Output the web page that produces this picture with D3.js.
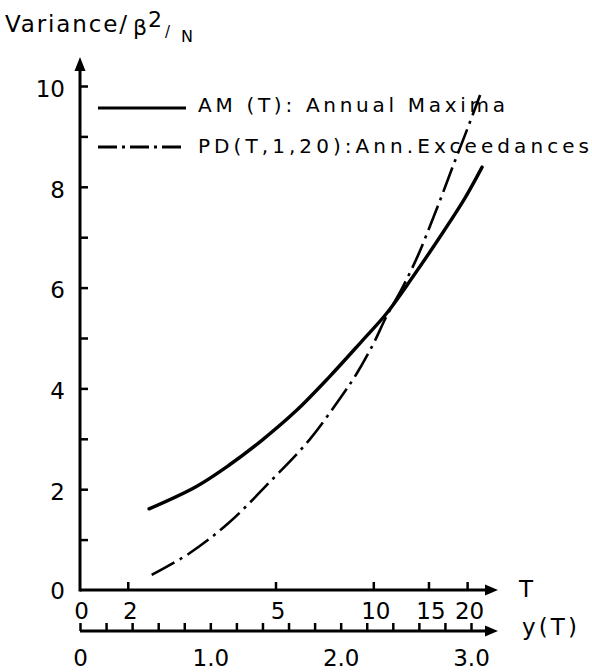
<!DOCTYPE html>
<html>
<head>
<meta charset="utf-8">
<script src="https://cdn.jsdelivr.net/npm/d3@7"></script>
<style>
  html, body { margin: 0; padding: 0; background: #fff; }
  svg { display: block; }
  text { font-family: "DejaVu Sans", sans-serif; fill: #000; }
</style>
</head>
<body>
<svg id="chart" width="592" height="672"></svg>
<script>
// ---------- data ----------
// reduced variate y(T) and Variance/(beta^2/N)
const amY   = [0.53, 0.89, 1.14, 1.40, 1.66, 1.91, 2.16, 2.35, 2.55, 2.75, 2.95, 3.085];
const amVar = [1.61, 2.05, 2.47, 2.98, 3.56, 4.22, 4.93, 5.48, 6.20, 6.96, 7.76, 8.39];

const pdY   = [0.55, 0.84, 1.14, 1.47, 1.76, 2.00, 2.12, 2.25, 2.35, 2.47, 2.59, 2.69, 2.78, 2.86, 2.95, 3.07];
const pdVar = [0.30, 0.73, 1.33, 2.18, 2.98, 3.82, 4.28, 4.88, 5.42, 5.98, 6.62, 7.25, 7.85, 8.40, 9.00, 9.82];

const seriesNames = ["AM (T): Annual Maxima", "PD(T,1,20):Ann.Exceedances"];

const varTicks      = [0, 1, 2, 3, 4, 5, 6, 7, 8, 9, 10];
const varTickLabels = ["0", "", "2", "", "4", "", "6", "", "8", "", "10"];

const tTicks      = [2, 5, 10, 15, 20];
const tTickLabels = ["2", "5", "10", "15", "20"];
const tOriginLabel = "0";

const yTTicks  = [0, 0.2, 0.4, 0.6, 0.8, 1.0, 1.2, 1.4, 1.6, 1.8, 2.0, 2.2, 2.4, 2.6, 2.8, 3.0];
const yTLabels = {0: "0", 1: "1.0", 2: "2.0", 3: "3.0"};

// ---------- scales ----------
const svg = d3.select("#chart");
const x = d3.scaleLinear().domain([0, 3]).range([80, 471]);
const y = d3.scaleLinear().domain([0, 10]).range([590, 86]);
// Gumbel reduced variate for return period T
const gumbel = T => -Math.log(-Math.log(1 - 1 / T));

const axisY1 = y(0);       // T axis line
const axisY2 = 631;        // y(T) axis line
const arrowEnd = 498;

function arrowRight(g, yy) {
  g.append("line").attr("x1", x(0)).attr("x2", arrowEnd - 6).attr("y1", yy).attr("y2", yy)
    .attr("stroke", "#000").attr("stroke-width", 3);
  g.append("path").attr("d", `M${arrowEnd},${yy} L${arrowEnd-13},${yy-5.5} L${arrowEnd-13},${yy+5.5} Z`)
    .attr("fill", "#000");
}

// ---------- Y axis ----------
const gy = svg.append("g").attr("transform", `translate(${x(0)},0)`)
  .call(d3.axisLeft(y).tickValues(varTicks.slice(1)).tickSize(-8).tickPadding(15)
    .tickFormat((d) => varTickLabels[varTicks.indexOf(d)]));
gy.select(".domain").remove();
gy.selectAll(".tick line").attr("stroke", "#000").attr("stroke-width", 2.5);
gy.selectAll(".tick text").attr("font-size", 23).attr("dy", "0.45em").attr("font-family", "DejaVu Sans");
svg.append("text").attr("x", x(0) - 15).attr("y", y(0)).attr("dy", "0.38em")
  .attr("text-anchor", "end").attr("font-size", 23).text(varTickLabels[0]);
svg.append("line").attr("x1", x(0)).attr("x2", x(0)).attr("y1", axisY1 + 1.5).attr("y2", 66)
  .attr("stroke", "#000").attr("stroke-width", 3);
svg.append("path").attr("d", `M${x(0)},57 L${x(0)-5.5},71 L${x(0)+5.5},71 Z`).attr("fill", "#000");

// ---------- T axis ----------
const gT = svg.append("g");
arrowRight(gT, axisY1);
const tAxis = svg.append("g").attr("transform", `translate(0,${axisY1})`)
  .call(d3.axisBottom(x).tickValues([0].concat(tTicks.map(gumbel))).tickSize(-8).tickPadding(13)
    .tickFormat((d, i) => i === 0 ? tOriginLabel : tTickLabels[i - 1]));
tAxis.select(".domain").remove();
tAxis.selectAll(".tick line").attr("stroke", "#000").attr("stroke-width", 2.5)
  .filter((d, i) => i === 0).remove();
tAxis.selectAll(".tick text").attr("font-size", 23).attr("font-family", "DejaVu Sans")
  .attr("dx", (d, i) => i === 0 ? 1 : 2);
svg.append("text").attr("x", 526).attr("y", 597).attr("text-anchor", "middle")
  .attr("font-size", 23).text("T");

// ---------- y(T) axis ----------
const gYT = svg.append("g");
arrowRight(gYT, axisY2);
const yTAxis = svg.append("g").attr("transform", `translate(0,${axisY2})`)
  .call(d3.axisBottom(x).tickValues(yTTicks).tickSize(-8).tickPadding(19)
    .tickFormat(d => { const k = Math.round(d * 10) / 10; return Number.isInteger(k) ? yTLabels[k] : ""; }));
yTAxis.select(".domain").remove();
yTAxis.selectAll(".tick line").attr("stroke", "#000").attr("stroke-width", 2.5);
yTAxis.selectAll(".tick text").attr("font-size", 23).attr("font-family", "DejaVu Sans");
svg.append("text").attr("x", 522).attr("y", 635).attr("font-size", 23)
  .attr("textLength", 55).attr("lengthAdjust", "spacing").text("y(T)");

// ---------- curves ----------
const line = d3.line().x(d => x(d[0])).y(d => y(d[1])).curve(d3.curveCatmullRom.alpha(0.5));
svg.append("path").datum(amY.map((v, i) => [v, amVar[i]])).attr("d", line)
  .attr("fill", "none").attr("stroke", "#000").attr("stroke-width", 3.4).attr("stroke-linecap", "round");
svg.append("path").datum(pdY.map((v, i) => [v, pdVar[i]])).attr("d", line)
  .attr("fill", "none").attr("stroke", "#000").attr("stroke-width", 2.6)
  .attr("stroke-dasharray", "26,6,3,6");

// ---------- legend ----------
const leg = svg.append("g");
leg.append("line").attr("x1", 98).attr("x2", 186).attr("y1", 108).attr("y2", 108)
  .attr("stroke", "#000").attr("stroke-width", 2.8);
leg.append("text").attr("x", 198).attr("y", 112).attr("font-size", 20)
  .attr("textLength", 307).attr("lengthAdjust", "spacing").text(seriesNames[0]);
leg.append("line").attr("x1", 98).attr("x2", 186).attr("y1", 147).attr("y2", 147)
  .attr("stroke", "#000").attr("stroke-width", 2.8).attr("stroke-dasharray", "19,5,3,5");
leg.append("text").attr("x", 198).attr("y", 153).attr("font-size", 20)
  .attr("textLength", 391).attr("lengthAdjust", "spacing").text(seriesNames[1]);

// ---------- title ----------
const title = svg.append("g");
title.append("text").attr("x", 5).attr("y", 32).attr("font-size", 23)
  .attr("textLength", 122).attr("lengthAdjust", "spacing").text("Variance/");
title.append("text").attr("x", 133).attr("y", 35).attr("font-size", 22).text("β");
title.append("text").attr("x", 148).attr("y", 27).attr("font-size", 22).text("2");
title.append("text").attr("x", 165).attr("y", 37).attr("font-size", 15).text("/");
title.append("text").attr("x", 181).attr("y", 42).attr("font-size", 16).text("N");
</script>
</body>
</html>
